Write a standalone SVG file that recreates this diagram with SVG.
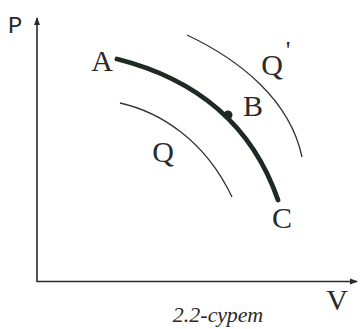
<svg xmlns="http://www.w3.org/2000/svg" width="360" height="329" viewBox="0 0 360 329">
<defs>
<marker id="arr" markerWidth="8" markerHeight="8" refX="7" refY="4" orient="auto" markerUnits="userSpaceOnUse">
<path d="M0,1 L8,4 L0,7 Z" fill="#2a2a2a"/>
</marker>
</defs>
<style>
.axis{stroke:#2a2a2a;stroke-width:1.6;fill:none}
.thin{stroke:#333;stroke-width:1.3;fill:none}
.thick{stroke:#1f2a22;stroke-width:4.8;fill:none;stroke-linecap:round}
.lbl{font-size:30px;fill:#2a2a2a;text-anchor:middle}
.mono{font-size:24px;fill:#2a2a2a}
.cap{font-style:italic;font-size:22px;fill:#2a2a2a;text-anchor:middle}
</style>
<rect width="360" height="329" fill="#ffffff"/>
<g id="connectors">
<path class="axis" d="M37,282 L37,18" marker-end="url(#arr)"/>
<path class="axis" d="M37,281.5 L357,281.5" marker-end="url(#arr)"/>
<path class="thin" d="M187,35 C240,60 290,100 302,157"/>
<path class="thin" d="M120,103 C160,112 205,140 232,197"/>
<path class="thick" d="M117,59 Q240,90 278,200"/>
</g>
<g id="axisP"><text class="mono" font-family="'Liberation Mono', 'Courier New', monospace" x="8" y="33">P</text></g>
<g id="axisV"><text class="lbl" font-family="'Liberation Serif', 'Times New Roman', serif" x="337" y="310">V</text></g>
<g id="nodeA"><text class="lbl" font-family="'Liberation Serif', 'Times New Roman', serif" x="102" y="71">A</text></g>
<g id="nodeB"><circle cx="228" cy="115" r="4.5" fill="#1f2a22"/><text class="lbl" font-family="'Liberation Serif', 'Times New Roman', serif" x="253" y="116">B</text></g>
<g id="nodeC"><text class="lbl" font-family="'Liberation Serif', 'Times New Roman', serif" x="282" y="228">C</text></g>
<g id="curveQ"><text class="lbl" font-family="'Liberation Serif', 'Times New Roman', serif" x="163" y="162">Q</text></g>
<g id="curveQprime"><text class="lbl" font-family="'Liberation Serif', 'Times New Roman', serif" x="272" y="75">Q<tspan x="288" y="59" font-size="26">'</tspan></text></g>
<g id="caption"><text class="cap" font-family="'Liberation Serif', 'Times New Roman', serif" x="218" y="322">2.2-сурет</text></g>
</svg>
